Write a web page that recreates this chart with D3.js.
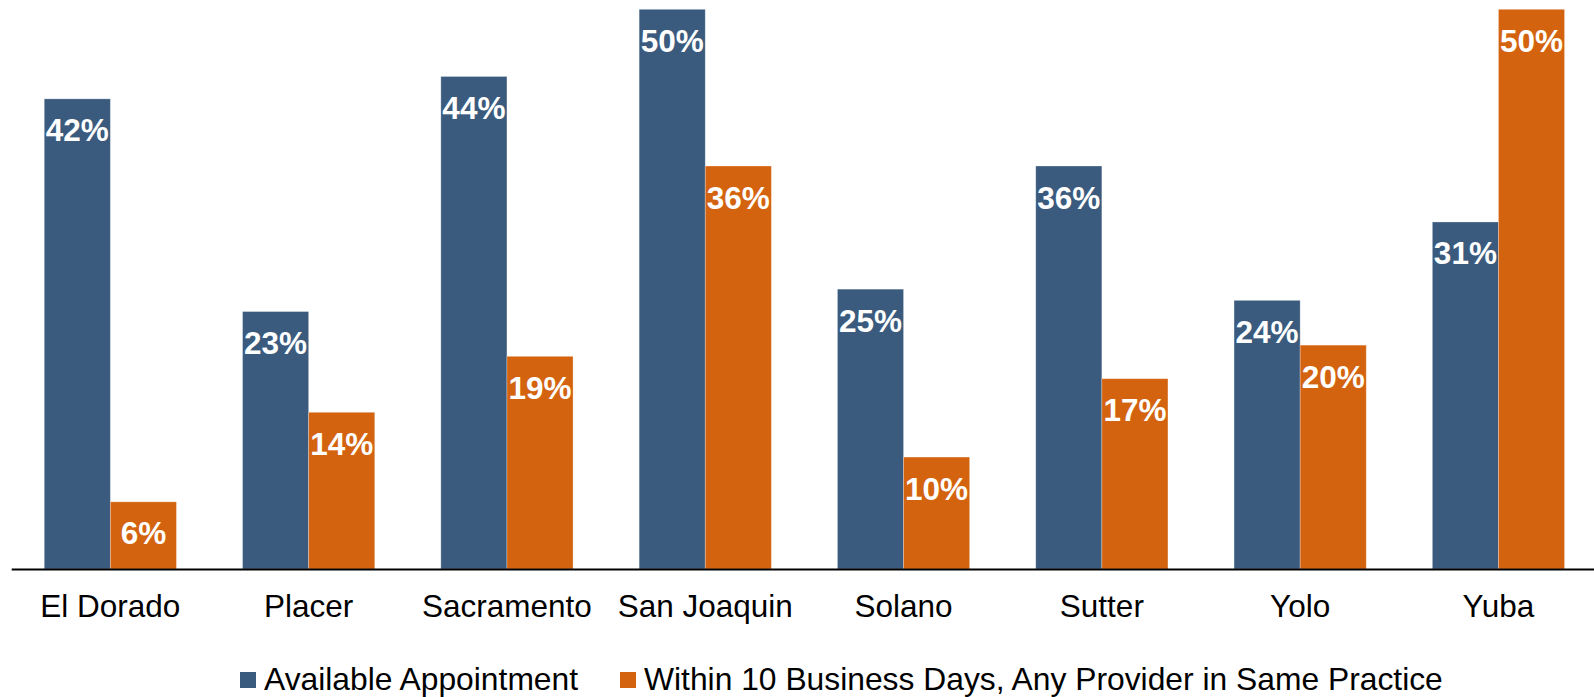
<!DOCTYPE html>
<html>
<head>
<meta charset="utf-8">
<script src="https://cdn.jsdelivr.net/npm/d3@7"></script>
<style>
  html, body { margin: 0; padding: 0; background: #ffffff; }
  svg { display: block; }
  text { font-family: "Liberation Sans", Arial, sans-serif; }
</style>
</head>
<body>
<svg id="chart" width="1594" height="697"></svg>
<script>
const categories = ["El Dorado", "Placer", "Sacramento", "San Joaquin", "Solano", "Sutter", "Yolo", "Yuba"];
const seriesNames = ["Available Appointment", "Within 10 Business Days, Any Provider in Same Practice"];
const availableAppointment = [42, 23, 44, 50, 25, 36, 24, 31];
const within10Days = [6, 14, 19, 36, 10, 17, 20, 50];
const colors = ["#3a5b7e", "#d4630f"];

const seriesValues = [availableAppointment, within10Days];
const rows = categories.map((c, i) => ({ category: c, values: seriesValues.map(s => s[i]) }));

const svg = d3.select("#chart");
const baseY = 569;

const x0 = d3.scaleBand()
  .domain(categories)
  .range([11.2, 1597.6])
  .paddingInner(1 / 3)
  .paddingOuter(1 / 6);

const x1 = d3.scaleBand()
  .domain(d3.range(seriesNames.length))
  .range([0, x0.bandwidth()])
  .padding(0);

const y = d3.scaleLinear().domain([0, 50]).range([baseY, 9.3]);

const groups = svg.append("g").selectAll("g")
  .data(rows)
  .join("g")
  .attr("transform", d => `translate(${x0(d.category)},0)`);

groups.selectAll("rect")
  .data(d => d.values.map((v, j) => ({ v, j })))
  .join("rect")
  .attr("x", d => x1(d.j))
  .attr("y", d => y(d.v))
  .attr("width", x1.bandwidth())
  .attr("height", d => y(0) - y(d.v))
  .attr("fill", d => colors[d.j])
  .attr("stroke", "#ffffff")
  .attr("stroke-opacity", 0.35)
  .attr("stroke-width", 0.8);

groups.selectAll("text.val")
  .data(d => d.values.map((v, j) => ({ v, j })))
  .join("text")
  .attr("class", "val")
  .attr("x", d => x1(d.j) + x1.bandwidth() / 2)
  .attr("y", d => y(d.v) + 42.5)
  .attr("text-anchor", "middle")
  .attr("fill", "#ffffff")
  .attr("font-weight", "bold")
  .attr("font-size", "31.5px")
  .text(d => d.v + "%");

const xAxis = d3.axisBottom(x0).tickSize(0).tickSizeOuter(0).tickPadding(25.5);
const axisG = svg.append("g")
  .attr("transform", `translate(0,${baseY})`)
  .call(xAxis);
axisG.select(".domain").attr("stroke", "#000").attr("stroke-width", 2);
axisG.selectAll(".tick text")
  .attr("font-family", "'Liberation Sans', Arial, sans-serif")
  .attr("font-size", "31.5px")
  .attr("fill", "#000");

// Legend
const legendItems = [
  { name: seriesNames[0], color: colors[0], x: 240 },
  { name: seriesNames[1], color: colors[1], x: 620 }
];
const lg = svg.append("g").selectAll("g")
  .data(legendItems)
  .join("g")
  .attr("transform", d => `translate(${d.x},0)`);
lg.append("rect")
  .attr("x", 0).attr("y", 672)
  .attr("width", 16).attr("height", 16)
  .attr("fill", d => d.color);
lg.append("text")
  .attr("x", 24).attr("y", 690)
  .attr("font-size", "31.8px")
  .attr("fill", "#000")
  .text(d => d.name);
</script>
</body>
</html>
